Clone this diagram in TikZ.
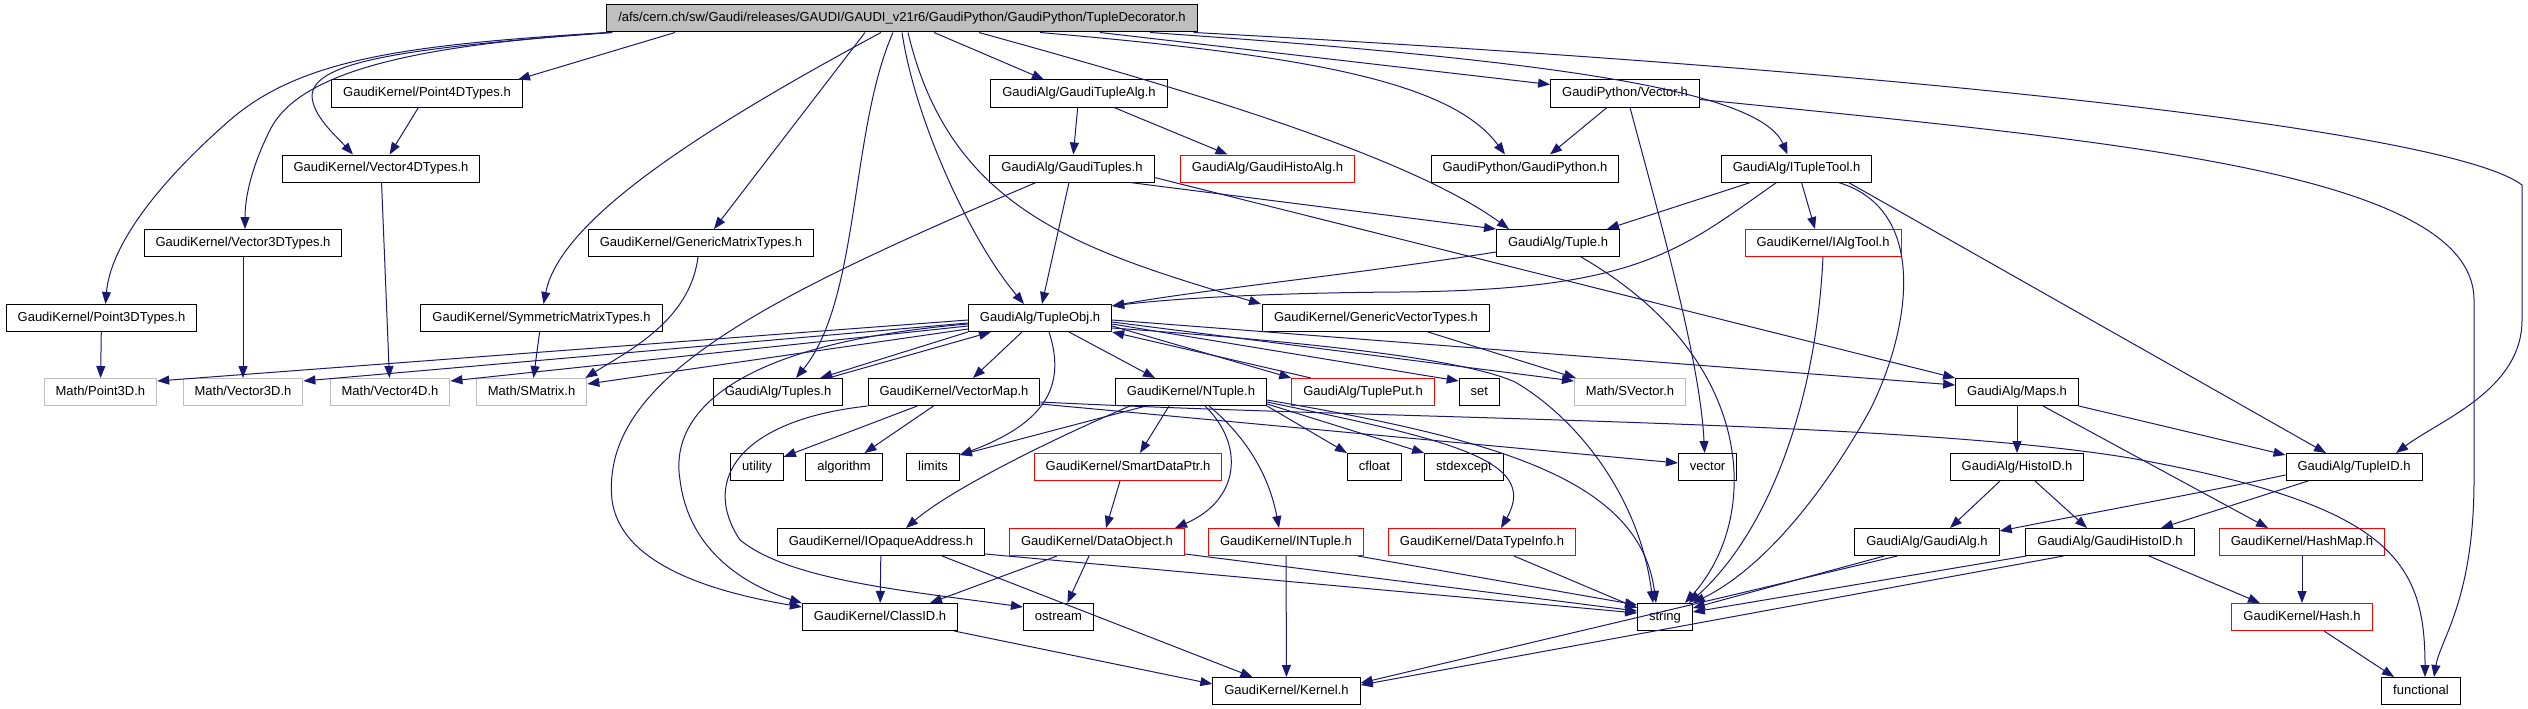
\documentclass[tikz,border=0pt]{standalone}
\usepackage{fontspec}
\setmainfont{Liberation Sans}
\usepackage{tikz}
\usetikzlibrary{arrows.meta,positioning}
\definecolor{edgeblue}{HTML}{191970}
\definecolor{rootgray}{HTML}{BFBFBF}
\definecolor{extred}{HTML}{FF0000}
\definecolor{sysgray}{HTML}{BFBFBF}

\tikzset{
  hdr/.style={draw=black, line width=1pt, font=\fontsize{13}{15}\selectfont,
    inner xsep=11.5pt, inner ysep=0pt, minimum height=27pt,
    text height=9.6pt, text depth=2.8pt},
  hdrext/.style={hdr, draw=extred},
  hdrsys/.style={hdr, draw=sysgray},
  hdrroot/.style={hdr, fill=rootgray},
  incl/.style={draw=edgeblue, line width=1pt, -{Triangle[length=12pt,width=9pt]}}
}

\begin{document}
\begin{tikzpicture}[x=1pt,y=-1pt]
        \useasboundingbox (0,0) rectangle (2528,709);

        % header files
        \node[hdrroot] (root) at (902,18.5) {/afs/cern.ch/sw/Gaudi/releases/GAUDI/GAUDI\_v21r6/GaudiPython/GaudiPython/TupleDecorator.h};

        \node[hdr] (p4d) at (427,93.5) {GaudiKernel/Point4DTypes.h};
        \node[hdr] (tupalg) at (1079,93.5) {GaudiAlg/GaudiTupleAlg.h};
        \node[hdr] (pyvec) at (1625,93.5) {GaudiPython/Vector.h};

        \node[hdr] (v4d) at (381,168.5) {GaudiKernel/Vector4DTypes.h};
        \node[hdr] (tuples) at (1072,168.5) {GaudiAlg/GaudiTuples.h};
        \node[hdrext] (histoalg) at (1267.5,168.5) {GaudiAlg/GaudiHistoAlg.h};
        \node[hdr] (gpy) at (1525,168.5) {GaudiPython/GaudiPython.h};
        \node[hdr] (itool) at (1796.5,168.5) {GaudiAlg/ITupleTool.h};

        \node[hdr] (v3d) at (243,243) {GaudiKernel/Vector3DTypes.h};
        \node[hdr] (gmat) at (701,243) {GaudiKernel/GenericMatrixTypes.h};
        \node[hdr] (tuple) at (1558,243) {GaudiAlg/Tuple.h};
        \node[hdrext] (ialg) at (1823,243) {GaudiKernel/IAlgTool.h};

        \node[hdr] (p3d) at (101.5,318) {GaudiKernel/Point3DTypes.h};
        \node[hdr] (smat) at (541.5,318) {GaudiKernel/SymmetricMatrixTypes.h};
        \node[hdr] (tobj) at (1040,318) {GaudiAlg/TupleObj.h};
        \node[hdr] (gvec) at (1376,318) {GaudiKernel/GenericVectorTypes.h};

        \node[hdrsys] (mp3) at (100.4,392) {Math/Point3D.h};
        \node[hdrsys] (mv3) at (243,392) {Math/Vector3D.h};
        \node[hdrsys] (mv4) at (390,392) {Math/Vector4D.h};
        \node[hdrsys] (msm) at (531.6,392) {Math/SMatrix.h};
        \node[hdr] (atuples) at (778,392) {GaudiAlg/Tuples.h};
        \node[hdr] (vmap) at (954,392) {GaudiKernel/VectorMap.h};
        \node[hdr] (ntuple) at (1191,392) {GaudiKernel/NTuple.h};
        \node[hdrext] (tput) at (1363,392) {GaudiAlg/TuplePut.h};
        \node[hdr] (nset) at (1479.4,392) {set};
        \node[hdrsys] (svec) at (1630,392) {Math/SVector.h};
        \node[hdr] (maps) at (2017,392) {GaudiAlg/Maps.h};

        \node[hdr] (utility) at (757,467) {utility};
        \node[hdr] (algorithm) at (844,467) {algorithm};
        \node[hdr] (limits) at (933,467) {limits};
        \node[hdrext] (sdptr) at (1128,467) {GaudiKernel/SmartDataPtr.h};
        \node[hdr] (cfloat) at (1374.5,467) {cfloat};
        \node[hdr] (stdexcept) at (1464,467) {stdexcept};
        \node[hdr] (vector) at (1707.6,467) {vector};
        \node[hdr] (histoid) at (2017,467) {GaudiAlg/HistoID.h};
        \node[hdr] (tupleid) at (2354,467) {GaudiAlg/TupleID.h};

        \node[hdr] (opaque) at (881,542) {GaudiKernel/IOpaqueAddress.h};
        \node[hdrext] (dobj) at (1097,542) {GaudiKernel/DataObject.h};
        \node[hdrext] (intuple) at (1286,542) {GaudiKernel/INTuple.h};
        \node[hdrext] (dtinfo) at (1482,542) {GaudiKernel/DataTypeInfo.h};
        \node[hdr] (galg) at (1927,542) {GaudiAlg/GaudiAlg.h};
        \node[hdr] (ghid) at (2110,542) {GaudiAlg/GaudiHistoID.h};
        \node[hdrext] (hmap) at (2302,542) {GaudiKernel/HashMap.h};

        \node[hdr] (classid) at (880,617) {GaudiKernel/ClassID.h};
        \node[hdr] (ostream) at (1058.4,617) {ostream};
        \node[hdr] (string) at (1665,617) {string};
        \node[hdrext] (hash) at (2302,617) {GaudiKernel/Hash.h};

        \node[hdr] (kernel) at (1286.5,691) {GaudiKernel/Kernel.h};
        \node[hdr] (functional) at (2421,691) {functional};

        % includes of the root file
        \draw[incl] ([xshift=2pt]root.south west) .. controls (400,45) and (300,60) .. (230,120) .. controls (150,190) and (110,250) .. ([xshift=4pt]p3d.north);
        \draw[incl] ([xshift=4pt]root.south west) .. controls (420,45) and (300,70) .. (270,130) .. controls (250,170) and (245,200) .. ([xshift=2pt]v3d.north);
        \draw[incl] ([xshift=6pt]root.south west) .. controls (400,48) and (315,62) .. (312,95) .. controls (312,115) and (335,135) .. ([xshift=-28pt]v4d.north);
        \draw[incl] ([xshift=-227pt]root.south) -- ([xshift=91pt]p4d.north);
        \draw[incl] ([xshift=-37pt]root.south) -- ([xshift=13pt]gmat.north);
        \draw[incl] ([xshift=-21pt]root.south) .. controls (700,130) and (560,220) .. ([xshift=2pt]smat.north);
        \draw[incl] ([xshift=-9pt]root.south) .. controls (850,130) and (860,300) .. ([xshift=18pt]atuples.north);
        \draw[incl] (root.south) .. controls (915,120) and (970,240) .. ([xshift=-16pt]tobj.north);
        \draw[incl] ([xshift=6pt]root.south) .. controls (950,210) and (1080,250) .. ([xshift=-115pt]gvec.north);
        \draw[incl] ([xshift=32pt]root.south) -- ([xshift=-35pt]tupalg.north);
        \draw[incl] ([xshift=77pt]root.south) .. controls (1150,80) and (1400,150) .. ([xshift=-49pt]tuple.north);
        \draw[incl] ([xshift=138pt]root.south) .. controls (1300,55) and (1450,80) .. ([xshift=-20pt]gpy.north);
        \draw[incl] ([xshift=198pt]root.south) -- ([yshift=-5pt]pyvec.north west);
        \draw[incl] ([xshift=248pt]root.south) .. controls (1550,60) and (1760,90) .. ([xshift=-9pt]itool.north);
        \draw[incl] ([xshift=-4pt]root.south east) .. controls (1900,70) and (2450,130) .. (2522,185) -- (2522,320) .. controls (2522,390) and (2440,420) .. ([xshift=42pt]tupleid.north);

        % geometry headers
        \draw[incl] (p4d) -- (v4d);
        \draw[incl] (v4d) -- (mv4);
        \draw[incl] (v3d) -- (mv3);
        \draw[incl] (p3d) -- (mp3);
        \draw[incl] (smat) -- (msm);
        \draw[incl] ([xshift=-3pt]gmat.south) .. controls (690,320) and (630,350) .. ([xshift=-2pt]msm.north east);
        \draw[incl] ([xshift=52pt]gvec.south) -- ([xshift=2pt]svec.north west);

        % GaudiAlg/TupleObj.h
        \draw[incl] ([yshift=-2pt]tobj.west) -- ([yshift=-3pt]mp3.north east);
        \draw[incl] ([yshift=-5pt]tobj.west) -- ([yshift=-3pt]mv3.north east);
        \draw[incl] ([yshift=-8pt]tobj.west) -- ([yshift=-3pt]mv4.north east);
        \draw[incl] ([yshift=-11pt]tobj.west) -- ([yshift=-6pt]msm.north east);
        \draw[incl] (tobj.south west) -- ([xshift=-23pt]atuples.north east);
        \draw[incl] ([xshift=-15pt]atuples.north east) -- ([xshift=23pt]tobj.south west);
        \draw[incl] ([xshift=-18pt]tobj.south) -- ([xshift=19pt]vmap.north);
        \draw[incl] ([xshift=29pt]tobj.south) -- ([xshift=-36pt]ntuple.north);
        \draw[incl] ([xshift=9pt]tobj.south) .. controls (1068,390) and (1040,425) .. ([yshift=-2pt]limits.north east);
        \draw[incl] ([yshift=-8pt]tobj.east) -- (tput.north west);
        \draw[incl] ([xshift=-52pt]tput.north) -- (tobj.south east);
        \draw[incl] ([yshift=-6pt]tobj.east) -- ([yshift=-3pt]nset.north west);
        \draw[incl] ([yshift=-4pt]tobj.east) -- ([yshift=-3pt]svec.north west);
        \draw[incl] ([yshift=-2pt]tobj.east) -- ([yshift=-7pt]maps.north west);
        \draw[incl] ([yshift=-10pt]tobj.east) .. controls (1350,345) and (1470,362) .. (1515,382) .. controls (1580,420) and (1640,500) .. ([xshift=-12pt]string.north);
        \draw[incl] ([yshift=-6pt]tobj.west) .. controls (720,345) and (670,420) .. (680,480) .. controls (690,560) and (760,590) .. (classid.north west);

        % GaudiAlg/GaudiTupleAlg.h, GaudiAlg/GaudiTuples.h
        \draw[incl] (tupalg) -- (tuples);
        \draw[incl] ([xshift=35pt]tupalg.south) -- ([xshift=-40pt]histoalg.north);
        \draw[incl] ([xshift=-3pt]tuples.south) -- ([xshift=2pt]tobj.north);
        \draw[incl] ([xshift=58pt]tuples.south) -- (tuple.north west);
        \draw[incl] ([yshift=5pt]tuples.south east) -- (maps.north west);
        \draw[incl] ([xshift=-36pt]tuples.south) .. controls (760,300) and (600,380) .. (612,500) .. controls (620,560) and (700,590) .. ([yshift=-4pt]classid.north west);

        % GaudiKernel/VectorMap.h
        \draw[incl] (vmap) -- (utility);
        \draw[incl] (vmap) -- (algorithm);
        \draw[incl] (vmap.south west) .. controls (740,420) and (700,480) .. (740,540) .. controls (790,580) and (900,590) .. ([yshift=-4pt]ostream.north west);
        \draw[incl] ([yshift=-12pt]vmap.east) -- ([yshift=-10pt]vector.north west);
        \draw[incl] ([yshift=-10pt]vmap.east) .. controls (1400,420) and (1900,420) .. (2130,458) .. controls (2390,505) and (2425,560) .. ([xshift=4pt]functional.north);

        % GaudiKernel/NTuple.h
        \draw[incl] ([xshift=-45pt]ntuple.south) -- ([yshift=-2pt]limits.north east);
        \draw[incl] ([xshift=-61pt]ntuple.south) .. controls (1050,440) and (950,490) .. ([xshift=25pt]opaque.north);
        \draw[incl] ([xshift=-22pt]ntuple.south) -- ([xshift=12pt]sdptr.north);
        \draw[incl] ([xshift=14pt]ntuple.south) .. controls (1245,445) and (1240,500) .. ([xshift=78pt]dobj.north);
        \draw[incl] ([xshift=18pt]ntuple.south) .. controls (1250,440) and (1270,480) .. ([xshift=-7pt]intuple.north);
        \draw[incl] (ntuple.south east) -- (cfloat.north west);
        \draw[incl] ([yshift=2pt]ntuple.south east) -- (stdexcept.north west);
        \draw[incl] ([yshift=4pt]ntuple.south east) .. controls (1450,440) and (1540,460) .. ([xshift=19pt]dtinfo.north);
        \draw[incl] ([yshift=6pt]ntuple.south east) .. controls (1500,440) and (1640,480) .. ([xshift=-9pt]string.north);

        % data object and address headers
        \draw[incl] ([xshift=-8pt]sdptr.south) -- ([xshift=9pt]dobj.north);
        \draw[incl] (opaque) -- (classid);
        \draw[incl] ([xshift=61pt]opaque.south) -- ([xshift=-34pt]kernel.north);
        \draw[incl] ([yshift=2pt]opaque.south east) -- ([yshift=-10pt]string.north west);
        \draw[incl] ([xshift=-40pt]dobj.south) -- ([xshift=50pt]classid.north);
        \draw[incl] ([xshift=-8pt]dobj.south) -- ([xshift=9pt]ostream.north);
        \draw[incl] ([yshift=2pt]dobj.south east) -- ([yshift=-8pt]string.north west);
        \draw[incl] (intuple) -- (kernel);
        \draw[incl] ([xshift=-6pt]intuple.south east) -- ([yshift=-2pt]string.north west);
        \draw[incl] ([xshift=32pt]dtinfo.south) -- ([yshift=-5pt]string.north west);
        \draw[incl] ([xshift=-4pt]classid.south east) -- ([yshift=-7pt]kernel.north west);

        % GaudiAlg/Tuple.h, GaudiAlg/ITupleTool.h
        \draw[incl] ([yshift=-9pt]tuple.west) .. controls (1350,275) and (1200,290) .. ([yshift=-2pt]tobj.north east);
        \draw[incl] ([xshift=23pt]tuple.south) .. controls (1760,360) and (1760,520) .. ([xshift=20pt]string.north);
        \draw[incl] (ialg.south) .. controls (1815,420) and (1760,540) .. ([xshift=24pt]string.north);
        \draw[incl] ([xshift=42pt]itool.south) .. controls (1930,210) and (1910,330) .. (1870,410) .. controls (1820,500) and (1760,570) .. (string.north east);
        \draw[incl] ([xshift=5pt]itool.south) -- ([xshift=-8pt]ialg.north);
        \draw[incl] ([xshift=-46pt]itool.south) -- ([xshift=49pt]tuple.north);
        \draw[incl] ([xshift=-20pt]itool.south) .. controls (1680,250) and (1640,290) .. (1400,292) .. controls (1250,293) and (1160,300) .. ([yshift=-2pt]tobj.north east);
        \draw[incl] ([xshift=52pt]itool.south) -- ([xshift=-28pt]tupleid.north);

        % GaudiPython/Vector.h
        \draw[incl] ([xshift=-18pt]pyvec.south) -- ([xshift=25pt]gpy.north);
        \draw[incl] ([xshift=5pt]pyvec.south) .. controls (1660,220) and (1700,360) .. ([xshift=-3pt]vector.north);
        \draw[incl] ([yshift=-6pt]pyvec.east) .. controls (2100,140) and (2474,170) .. (2474,300) -- (2474,480) .. controls (2474,600) and (2440,640) .. ([xshift=13pt]functional.north);

        % GaudiAlg/Maps.h and the ID headers
        \draw[incl] (maps) -- (histoid);
        \draw[incl] ([xshift=26pt]maps.south) -- ([xshift=-34pt]hmap.north);
        \draw[incl] (maps.south east) -- ([yshift=-2pt]tupleid.north west);
        \draw[incl] ([xshift=-17pt]histoid.south) -- ([xshift=23pt]galg.north);
        \draw[incl] ([xshift=18pt]histoid.south) -- ([xshift=-23pt]ghid.north);
        \draw[incl] ([yshift=-8pt]tupleid.west) .. controls (2190,495) and (2080,515) .. ([yshift=-3pt]galg.north east);
        \draw[incl] ([xshift=-46pt]tupleid.south) -- ([xshift=51pt]ghid.north);
        \draw[incl] ([xshift=30pt]galg.south west) -- ([yshift=-5pt]string.north east);
        \draw[incl] ([xshift=43pt]galg.south west) -- ([yshift=-6pt]kernel.north east);
        \draw[incl] ([xshift=1pt]ghid.south west) -- ([yshift=-9pt]string.north east);
        \draw[incl] ([xshift=38pt]ghid.south west) -- ([yshift=-8pt]kernel.north east);
        \draw[incl] ([xshift=39pt]ghid.south) -- ([xshift=-42pt]hash.north);
        \draw[incl] (hmap) -- (hash);
        \draw[incl] ([xshift=22pt]hash.south) -- ([xshift=-27pt]functional.north);
    \end{tikzpicture}
\end{document}
